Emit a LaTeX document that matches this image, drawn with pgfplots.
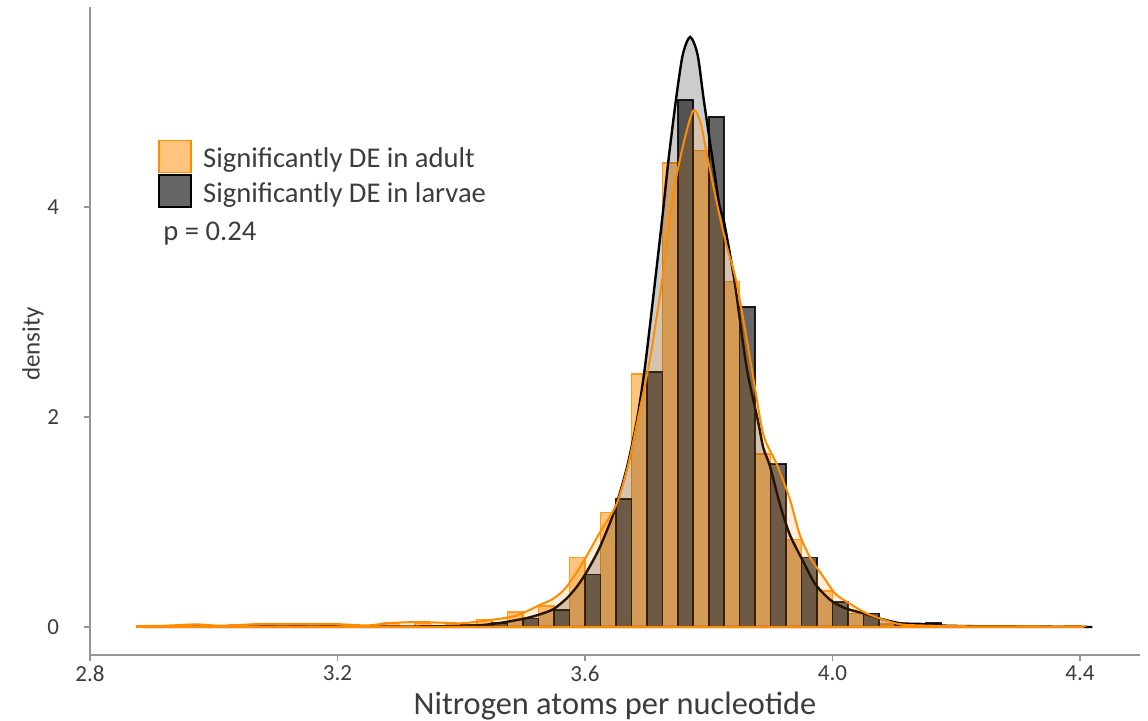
\documentclass[border=0pt]{standalone}
\usepackage{fontspec}
\setmainfont{Carlito}
\usepackage{pgfplots}
\pgfplotsset{compat=1.18}
\definecolor{dorange}{RGB}{255,140,0}
\definecolor{axgray}{RGB}{150,150,150}
\definecolor{txtgray}{RGB}{60,60,60}
\begin{document}
\begin{tikzpicture}
\begin{axis}[
  at={(45pt,33pt)}, anchor=south west,
  scale only axis, width=525pt, height=324pt,
  xmin=2.8, xmax=4.497, ymin=-0.2667, ymax=5.905,
  axis x line*=bottom, axis y line*=left,
  axis line style={axgray, line width=0.8pt, -},
  tick style={axgray, line width=0.8pt},
  tick align=outside, major tick length=3pt,
  xtick={2.8,3.2,3.6,4.0,4.4},
  xticklabels={2.8,3.2,3.6,4.0,4.4},
  ytick={0,2,4},
  yticklabels={0,2,4},
  ticklabel style={font=\fontsize{11.5}{13}\selectfont, text=txtgray},
  xticklabel style={yshift=1pt},
  yticklabel style={xshift=-9pt},
  xlabel={Nitrogen atoms per nucleotide},
  ylabel={density},
  xlabel style={at={(axis description cs:0.5,-0.079)}, anchor=center, font=\fontsize{16.2}{18}\selectfont, text=txtgray},
  ylabel style={at={(axis description cs:-0.0543,0.48)}, anchor=center, font=\fontsize{12.5}{14}\selectfont, text=txtgray},
  legend style={at={(axis description cs:0.0648,0.796)}, anchor=north west, draw=none, fill=none,
     inner sep=0pt, row sep=0.3pt, font=\fontsize{14.3}{16}\selectfont, text=txtgray,
     nodes={inner sep=0pt}},
  legend cell align=left,
  /tikz/every odd column/.append style={column sep=5.5pt},
]
% histogram: adult (orange), dodged left half of each 0.05 bin
\addplot[forget plot, ybar, bar width=0.025, bar shift=-0.0125, fill=dorange, fill opacity=0.5,
  draw=dorange, draw opacity=0.85, line width=0.8pt] coordinates {
  (2.90,0.01) (2.95,0.01) (3.00,0.01) (3.05,0.02) (3.10,0.02) (3.15,0.02) (3.20,0.02)
  (3.25,0.01) (3.30,0.04) (3.35,0.04) (3.40,0.03) (3.45,0.07) (3.50,0.14) (3.55,0.20)
  (3.60,0.66) (3.65,1.09) (3.70,2.41) (3.75,4.42) (3.80,4.54) (3.85,3.29) (3.90,1.65)
  (3.95,0.835) (4.00,0.34) (4.05,0.13) (4.10,0.03) (4.15,0.01) (4.20,0.01) (4.40,0.01)
};
% histogram: larvae (black), dodged right half
\addplot[forget plot, ybar, bar width=0.025, bar shift=0.0125, fill=black, fill opacity=0.6,
  draw=black, draw opacity=0.85, line width=0.8pt] coordinates {
  (3.35,0.01) (3.40,0.02) (3.45,0.04) (3.50,0.08) (3.55,0.16) (3.60,0.50) (3.65,1.22)
  (3.70,2.43) (3.75,5.02) (3.80,4.86) (3.85,3.05) (3.90,1.55) (3.95,0.66) (4.00,0.24)
  (4.05,0.13) (4.10,0.02) (4.15,0.04) (4.20,0.01) (4.25,0.01) (4.30,0.005)
};
% density: larvae
\addplot[forget plot, smooth, tension=0.45, draw=black, line width=1.2pt, fill=black, fill opacity=0.2] coordinates {
  (2.886,0) (2.95,0.003) (3.05,0.003) (3.15,0.003) (3.25,0.004) (3.33,0.005) (3.38,0.007)
  (3.41,0.01) (3.43,0.016) (3.452,0.03) (3.47,0.045) (3.484,0.06) (3.506,0.085) (3.527,0.12)
  (3.549,0.17) (3.57,0.27) (3.585,0.37) (3.597,0.47) (3.61,0.6) (3.624,0.76) (3.646,1.08)
  (3.667,1.50) (3.684,1.97) (3.697,2.48) (3.713,3.28) (3.725,3.90) (3.735,4.45) (3.747,5.02)
  (3.758,5.45) (3.770,5.62) (3.782,5.45) (3.792,5.02) (3.807,4.42) (3.817,4.02) (3.825,3.85)
  (3.842,3.28) (3.861,2.48) (3.88,1.95) (3.888,1.71) (3.899,1.53) (3.915,1.17) (3.931,0.88)
  (3.953,0.62) (3.972,0.41) (3.996,0.26) (4.02,0.18) (4.05,0.13) (4.077,0.08) (4.11,0.035)
  (4.14,0.03) (4.17,0.015) (4.22,0.008) (4.3,0.005) (4.42,0)
} \closedcycle;
% density: adult
\addplot[forget plot, smooth, tension=0.45, draw=dorange, line width=1pt, fill=dorange, fill opacity=0.15] coordinates {
  (2.876,0) (2.88,0.008) (2.92,0.012) (2.972,0.025) (3.01,0.012) (3.05,0.022) (3.08,0.03)
  (3.134,0.03) (3.19,0.03) (3.247,0.015) (3.28,0.035) (3.312,0.045) (3.35,0.045) (3.398,0.035)
  (3.425,0.05) (3.452,0.07) (3.484,0.10) (3.506,0.15) (3.527,0.21) (3.549,0.27) (3.570,0.38)
  (3.597,0.62) (3.624,0.90) (3.651,1.17) (3.670,1.55) (3.686,2.0) (3.705,2.55) (3.724,3.28)
  (3.742,4.1) (3.759,4.6) (3.775,4.92) (3.787,4.8) (3.797,4.50) (3.812,4.07) (3.828,3.65)
  (3.845,3.28) (3.869,2.48) (3.888,1.84) (3.91,1.55) (3.931,1.22) (3.947,0.88) (3.964,0.66)
  (3.985,0.48) (4.004,0.32) (4.023,0.24) (4.055,0.13) (4.093,0.05) (4.12,0.02) (4.2,0.008)
  (4.3,0.005) (4.40,0.004) (4.40,0)
} \closedcycle;
\addlegendimage{legend image code/.code={\draw[fill=dorange, fill opacity=0.5, draw=dorange, line width=0.9pt] (0pt,-6.5pt) rectangle (16pt,9.5pt);}}
\addlegendentry{Significantly DE in adult}
\addlegendimage{legend image code/.code={\draw[fill=black, fill opacity=0.6, draw=black, line width=0.9pt] (0pt,-6.5pt) rectangle (16pt,9.5pt);}}
\addlegendentry{Significantly DE in larvae}
\node[anchor=west, font=\fontsize{14.3}{16}\selectfont, text=txtgray, inner sep=0pt] at (axis description cs:0.0695,0.651) {p = 0.24};
\end{axis}
\pgfresetboundingbox
\useasboundingbox (0,0) rectangle (574pt,360.5pt);
\end{tikzpicture}
\end{document}
